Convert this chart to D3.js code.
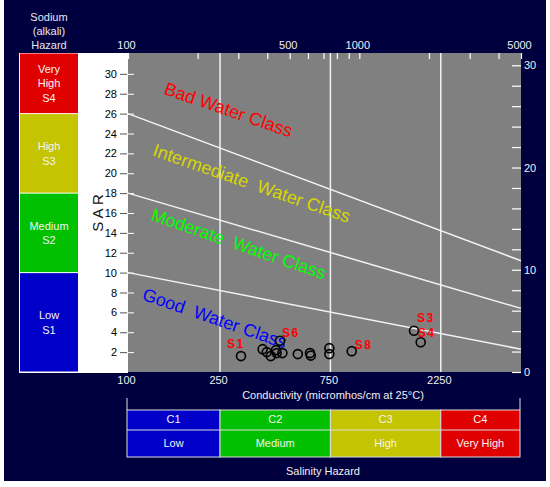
<!DOCTYPE html>
<html>
<head>
<meta charset="utf-8">
<script src="https://cdn.jsdelivr.net/npm/d3@7"></script>
<style>
  body { margin: 0; background: #fff; }
  text { font-family: "Liberation Sans", Arial, sans-serif; }
</style>
</head>
<body>
<div id="chart"></div>
<script>
// samples: conductivity (micromhos/cm) and SAR
const sampleEC = [308, 382, 398, 414, 436, 439, 454, 465, 542, 612, 617, 742, 742, 927, 1724, 1842];
const sampleSAR = [1.6, 2.3, 2.0, 1.6, 2.2, 1.9, 3.15, 1.9, 1.8, 1.9, 1.65, 2.4, 1.8, 2.1, 4.15, 3.0];
const sampleNames = ["S1", "", "", "", "", "", "S6", "", "", "", "", "", "", "S8", "S3", "S4"];

// class boundary lines: SAR at EC 100 and at EC 5000
const lineSarStart = [10, 18, 26];
const lineSarEnd = [2.3, 6.4, 11.2];

const classNames = ["Good  Water Class", "Moderate  Water Class", "Intermediate  Water Class", "Bad Water Class"];
const classColors = ["#0000ff", "#00ff00", "#d8d800", "#ff0000"];
const classEC = [114, 124.5, 126.6, 141.7];
const classSAR = [7.3, 15.3, 21.8, 28.0];

const sodiumCodes = ["S1", "S2", "S3", "S4"];
const sodiumNames = [["Low"], ["Medium"], ["High"], ["Very", "High"]];
const sodiumBreaks = [0, 10, 18, 26, 32.1];

const salinityCodes = ["C1", "C2", "C3", "C4"];
const salinityNames = ["Low", "Medium", "High", "Very High"];
const salinityBreaks = [100, 250, 750, 2250, 5000];

const legendColors = ["#0000c8", "#00c000", "#c4c400", "#e00000"];

const topTicks = [100, 200, 300, 400, 500, 600, 700, 800, 900, 1000, 2000, 3000, 4000, 5000];
const topLabels = [100, 500, 1000, 5000];
const bottomLabels = [100, 250, 750, 2250];
const gridEC = [250, 750, 2250];
const sarTicks = d3.range(2, 31, 2);
const rightTicks = d3.range(0, 31, 2);

const W = 550, H = 487;
const margin = { top: 53, right: 29, bottom: 115, left: 128 };
const plotR = W - margin.right, plotB = H - margin.bottom;

const x = d3.scaleLog().domain([100, 5000]).range([margin.left, plotR]);
const y = d3.scaleLinear().domain([0, 32.1]).range([plotB, margin.top]);
const yR = d3.scaleLinear().domain([0, 31.2]).range([plotB, margin.top]);

const svg = d3.select("#chart").append("svg")
  .attr("width", W).attr("height", H);

// navy frame
svg.append("rect").attr("x", 4).attr("y", 0).attr("width", 542).attr("height", 481)
  .attr("fill", "#00003e");

// white panel behind sodium legend + SAR axis
svg.append("rect").attr("x", 19).attr("y", margin.top).attr("width", margin.left - 19)
  .attr("height", plotB - margin.top + 1).attr("fill", "#fff");

// plot area
svg.append("rect").attr("x", margin.left).attr("y", margin.top)
  .attr("width", plotR - margin.left).attr("height", plotB - margin.top).attr("fill", "#808080");

// sodium hazard legend
svg.append("g").selectAll("text").data(["Sodium", "(alkali)", "Hazard"]).join("text")
  .attr("x", 49).attr("y", (d, i) => 21 + i * 14)
  .attr("text-anchor", "middle").attr("fill", "#e8e8f0").style("font-size", "11px").text(d => d);

const sod = svg.append("g");
sodiumCodes.forEach((c, i) => {
  const y0 = y(sodiumBreaks[i + 1]), y1 = y(sodiumBreaks[i]);
  sod.append("rect").attr("x", 20).attr("y", y0 + 0.5).attr("width", 58).attr("height", y1 - y0 - 1)
    .attr("fill", legendColors[i]);
  const lines = sodiumNames[i].concat([c]);
  const cy = (y0 + y1) / 2 - (lines.length - 1) * 7.25;
  lines.forEach((t, j) => {
    sod.append("text").attr("x", 49).attr("y", cy + j * 14.5 + 4)
      .attr("text-anchor", "middle").attr("fill", "#f4f4f4").style("font-size", "11px").text(t);
  });
});

// SAR axis title
svg.append("text").attr("transform", "translate(103,213) rotate(-90)")
  .attr("text-anchor", "middle").style("font-size", "15px").attr("fill", "#111").text("S A R");

// left axis (outside, dark)
const leftAxis = svg.append("g").attr("transform", `translate(${margin.left - 1},0)`)
  .call(d3.axisLeft(y).tickValues(sarTicks).tickSize(7).tickPadding(3));
leftAxis.select(".domain").remove();
leftAxis.selectAll("line").attr("stroke", "#555");
leftAxis.selectAll("text").style("font-size", "11px").attr("fill", "#000")
  .style("font-family", "'Liberation Sans', Arial, sans-serif");

// left inner white ticks
const leftIn = svg.append("g").attr("transform", `translate(${margin.left},0)`)
  .call(d3.axisRight(y).tickValues(sarTicks).tickSize(6).tickFormat(""));
leftIn.select(".domain").remove();
leftIn.selectAll("line").attr("stroke", "#fff");

// right axis
const rightAxis = svg.append("g").attr("transform", `translate(${plotR},0)`)
  .call(d3.axisRight(yR).tickValues(rightTicks).tickSize(-9).tickPadding(3)
    .tickFormat(d => d % 10 === 0 ? d : ""));
rightAxis.select(".domain").remove();
rightAxis.selectAll("line").attr("stroke", "#fff").attr("stroke-width", 1.2);
rightAxis.selectAll("text").attr("fill", "#f0f0f0").style("font-size", "11px")
  .style("font-family", "'Liberation Sans', Arial, sans-serif");

// top axis
const topAxis = svg.append("g").attr("transform", `translate(-2,${margin.top})`)
  .call(d3.axisTop(x).tickValues(topTicks).tickSize(-6).tickPadding(4)
    .tickFormat(d => topLabels.includes(d) ? d : ""));
topAxis.select(".domain").remove();
topAxis.selectAll("line").attr("stroke", "#fff").attr("stroke-width", 1.2).attr("transform", "translate(2,0)");
topAxis.selectAll("text").attr("fill", "#f0f0f0").style("font-size", "11px")
  .style("font-family", "'Liberation Sans', Arial, sans-serif");

// bottom axis labels
const botAxis = svg.append("g").attr("transform", `translate(-2,${plotB})`)
  .call(d3.axisBottom(x).tickValues(bottomLabels).tickSize(0).tickPadding(4).tickFormat(d3.format("d")));
botAxis.select(".domain").remove();
botAxis.selectAll("text").attr("fill", "#f0f0f0").style("font-size", "11px")
  .style("font-family", "'Liberation Sans', Arial, sans-serif");

// vertical grid lines
svg.append("g").selectAll("line").data(gridEC).join("line")
  .attr("x1", d => x(d)).attr("x2", d => x(d))
  .attr("y1", margin.top).attr("y2", plotB)
  .attr("stroke", "#f2f2f2").attr("stroke-width", 1.5);

// class boundary lines
svg.append("g").selectAll("line").data(lineSarStart).join("line")
  .attr("x1", x(100)).attr("y1", d => y(d))
  .attr("x2", x(5000)).attr("y2", (d, i) => y(lineSarEnd[i]))
  .attr("stroke", "#f2f2f2").attr("stroke-width", 1.5);

// class labels
svg.append("g").selectAll("text").data(classNames).join("text")
  .attr("transform", (d, i) => `translate(${x(classEC[i])},${y(classSAR[i])}) rotate(19)`)
  .attr("fill", (d, i) => classColors[i])
  .style("font-size", "18px").style("white-space", "pre").attr("xml:space", "preserve")
  .text(d => d);

// samples
svg.append("g").selectAll("circle").data(sampleEC).join("circle")
  .attr("cx", d => x(d)).attr("cy", (d, i) => y(sampleSAR[i]))
  .attr("r", 4.5).attr("fill", "none").attr("stroke", "#000").attr("stroke-width", 1.6);

const labelOffset = { S1: [-14, -8], S6: [2, -4], S8: [3, -2], S3: [3, -9], S4: [-3, -5] };
svg.append("g").selectAll("text").data(sampleNames.map((n, i) => ({ n, i })).filter(d => d.n)).join("text")
  .attr("x", d => x(sampleEC[d.i]) + labelOffset[d.n][0])
  .attr("y", d => y(sampleSAR[d.i]) + labelOffset[d.n][1])
  .attr("fill", "#ff0000").style("font-size", "12px").style("font-weight", "bold")
  .style("letter-spacing", "1.5px").text(d => d.n);

// conductivity title
svg.append("text").attr("x", 333).attr("y", 399).attr("text-anchor", "middle")
  .attr("fill", "#f0f0f0").style("font-size", "11px").text("Conductivity (micromhos/cm at 25°C)");

// salinity hazard legend
const sal = svg.append("g");
const legTop = 410, rowMid = 430, legBot = 457;
sal.append("line").attr("x1", 127).attr("x2", 127).attr("y1", 398).attr("y2", legTop).attr("stroke", "#ddd");
sal.append("line").attr("x1", plotR - 1).attr("x2", plotR - 1).attr("y1", 398).attr("y2", legTop).attr("stroke", "#ddd");
salinityCodes.forEach((c, i) => {
  const x0 = i === 0 ? 127 : x(salinityBreaks[i]);
  const x1 = i === 3 ? plotR - 1 : x(salinityBreaks[i + 1]);
  sal.append("rect").attr("x", x0).attr("y", legTop).attr("width", x1 - x0).attr("height", legBot - legTop)
    .attr("fill", legendColors[i]).attr("stroke", "#ddd").attr("stroke-width", 1);
  sal.append("line").attr("x1", x0).attr("x2", x1).attr("y1", rowMid).attr("y2", rowMid)
    .attr("stroke", "#ddd");
  sal.append("text").attr("x", (x0 + x1) / 2).attr("y", 423).attr("text-anchor", "middle")
    .attr("fill", "#f4f4f4").style("font-size", "11px").text(c);
  sal.append("text").attr("x", (x0 + x1) / 2).attr("y", 447).attr("text-anchor", "middle")
    .attr("fill", "#f4f4f4").style("font-size", "11px").text(salinityNames[i]);
});
svg.append("text").attr("x", 323).attr("y", 475).attr("text-anchor", "middle")
  .attr("fill", "#f0f0f0").style("font-size", "11px").text("Salinity Hazard");
</script>
</body>
</html>
